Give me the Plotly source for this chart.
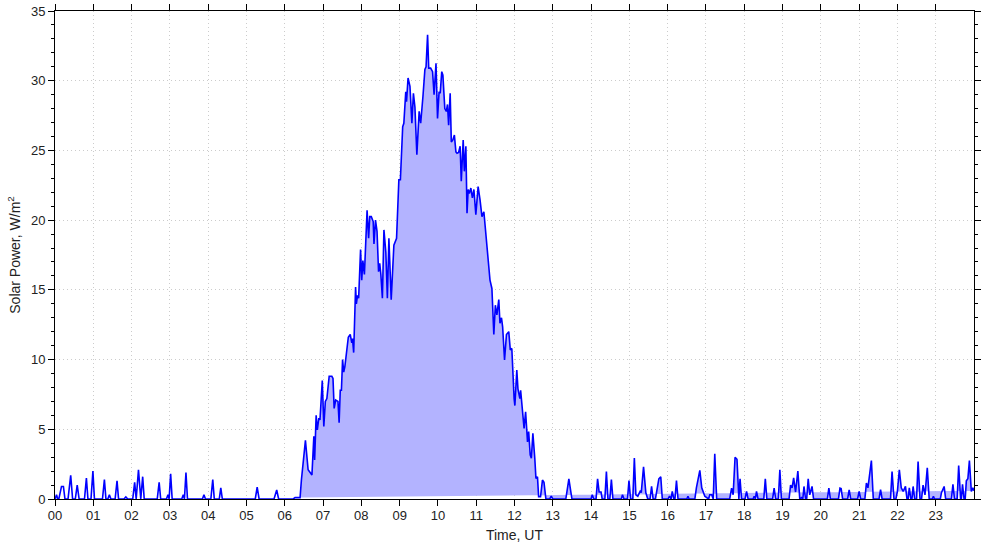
import plotly.graph_objects as go

# ---- data: time (hours UT) and solar power (W/m^2) ----
t_am = [0.00, 0.04, 0.07, 0.10, 0.17, 0.22, 0.26,
        0.34, 0.41, 0.46,
        0.53, 0.58, 0.63,
        0.77, 0.82, 0.86,
        0.94, 0.99, 1.03,
        1.24, 1.29, 1.33,
        1.38, 1.42, 1.46,
        1.57, 1.62, 1.66,
        1.80, 1.85, 1.90,
        2.03, 2.08, 2.12, 2.18, 2.24, 2.29, 2.33,
        2.67, 2.72, 2.76,
        2.91, 2.95, 2.98, 3.02, 3.06,
        3.31, 3.35, 3.38, 3.42, 3.46,
        3.85, 3.89, 3.93,
        4.07, 4.12, 4.16,
        4.29, 4.33, 4.37,
        5.23, 5.28, 5.33,
        5.72, 5.79, 5.84,
        6.22, 6.27, 6.36]
p_am = [0.0, 0.3, 0.0, 0.0, 0.9, 0.9, 0.0,
        0.0, 1.7, 0.0,
        0.0, 1.0, 0.0,
        0.0, 1.5, 0.0,
        0.0, 2.0, 0.0,
        0.0, 1.4, 0.0,
        0.0, 0.3, 0.0,
        0.0, 1.3, 0.0,
        0.0, 0.15, 0.0,
        0.0, 1.2, 0.0, 2.1, 0.0, 1.6, 0.0,
        0.0, 1.2, 0.0,
        0.0, 0.3, 0.0, 1.8, 0.0,
        0.0, 0.3, 0.0, 1.9, 0.0,
        0.0, 0.3, 0.0,
        0.0, 1.4, 0.0,
        0.0, 0.8, 0.0,
        0.0, 0.85, 0.0,
        0.0, 0.65, 0.0,
        0.0, 0.1, 0.1]

t_day = [6.40, 6.435, 6.54, 6.61, 6.67, 6.71, 6.76, 6.78, 6.82, 6.85, 6.89, 6.92,
         6.98, 7.02, 7.06, 7.10, 7.16, 7.23, 7.26, 7.29, 7.33, 7.39, 7.42, 7.45,
         7.48, 7.51, 7.54, 7.57, 7.66, 7.71, 7.75, 7.77, 7.80, 7.85, 7.87, 7.90,
         7.93, 7.98, 8.01, 8.04, 8.08, 8.15, 8.19, 8.22, 8.26, 8.31, 8.33, 8.37,
         8.41, 8.45, 8.48, 8.51, 8.55, 8.59, 8.64, 8.68, 8.72, 8.78, 8.85, 8.92,
         8.98, 9.02, 9.08, 9.11, 9.16, 9.18, 9.22, 9.27, 9.32, 9.36, 9.40, 9.45,
         9.51, 9.55, 9.61, 9.66, 9.69, 9.73, 9.76, 9.81, 9.86, 9.90, 9.95, 9.99,
         10.03, 10.06, 10.10, 10.13, 10.18, 10.22, 10.25, 10.28, 10.32, 10.35, 10.39, 10.43,
         10.47, 10.50, 10.54, 10.58, 10.61, 10.66, 10.69, 10.73, 10.76, 10.79, 10.82, 10.86,
         10.90, 10.94, 10.99, 11.05, 11.10, 11.15, 11.20, 11.27, 11.31, 11.36, 11.41, 11.46,
         11.50, 11.54, 11.59, 11.62, 11.66, 11.69, 11.74, 11.79, 11.85, 11.89, 11.93, 11.96,
         11.99, 12.01, 12.06, 12.09, 12.14, 12.16, 12.21, 12.25, 12.29, 12.34, 12.37, 12.41,
         12.44, 12.48, 12.53, 12.56, 12.60, 12.63, 12.68, 12.73, 12.77, 12.82]
p_day = [0.1, 1.36, 4.2, 2.1, 1.84, 1.72, 4.5, 2.8, 6.0, 4.95, 5.8, 5.67,
         8.5, 5.2, 7.0, 7.2, 8.8, 8.8, 8.65, 6.5, 7.1, 7.0, 5.47, 7.8,
         7.8, 10.0, 9.1, 9.5, 11.6, 11.8, 11.2, 11.5, 10.5, 15.2, 14.0, 14.6,
         14.4, 17.9, 15.7, 17.1, 16.1, 20.7, 18.7, 20.25, 20.25, 19.9, 18.3, 20.0,
         19.2, 16.3, 16.9, 16.1, 14.4, 19.3, 17.7, 14.4, 18.7, 14.3, 18.2, 18.7,
         22.9, 22.9, 26.7, 26.95, 29.2, 28.5, 30.2, 29.6, 26.95, 29.1, 28.1, 24.7,
         27.8, 26.95, 28.9, 30.8, 31.0, 33.3, 30.9, 30.9, 30.65, 29.0, 31.25, 27.3,
         29.2, 29.1, 30.65, 30.4, 28.0, 27.8, 28.3, 26.8, 29.1, 25.6, 25.75, 26.1,
         24.9, 24.8, 24.85, 25.3, 22.8, 25.75, 23.5, 25.3, 20.5, 22.2, 21.9, 22.3,
         21.6, 22.2, 20.4, 22.4, 21.45, 20.25, 20.6, 18.3, 17.3, 15.7, 15.1, 11.8,
         13.9, 13.2, 14.3, 12.6, 13.0, 12.35, 9.97, 11.8, 12.0, 10.7, 10.8, 8.66,
         7.2, 6.7, 9.25, 7.9, 7.2, 7.8, 6.26, 5.07, 6.26, 4.1, 4.83, 3.16,
         2.92, 4.71, 2.92, 1.48, 1.6, 0.16, 0.16, 1.36, 1.2, 0.0]

t_pm = [12.92, 12.96, 13.00,
        13.34, 13.42, 13.50,
        14.00, 14.03, 14.07,
        14.13, 14.17, 14.21, 14.26, 14.29,
        14.36, 14.40, 14.44,
        14.49, 14.53, 14.57,
        14.79, 14.82, 14.86,
        14.95, 14.99, 15.03,
        15.09, 15.13, 15.17, 15.22, 15.29, 15.31, 15.37, 15.43, 15.48,
        15.54, 15.58, 15.62,
        15.68, 15.72, 15.77, 15.82, 15.86,
        16.01, 16.05, 16.09, 16.12, 16.16,
        16.19, 16.23, 16.27,
        16.50, 16.53, 16.56,
        16.71, 16.75, 16.84, 16.89, 16.92, 16.97, 17.02, 17.07, 17.10, 17.15, 17.19,
        17.23, 17.28,
        17.62, 17.67, 17.71, 17.76, 17.81, 17.86, 17.89, 17.93,
        18.02, 18.06, 18.10,
        18.23, 18.26, 18.29, 18.32, 18.36,
        18.51, 18.55, 18.59,
        18.74, 18.78, 18.82,
        18.89, 18.93, 18.97,
        19.17, 19.21, 19.25, 19.29, 19.34, 19.40, 19.45, 19.50, 19.53,
        19.56, 19.60,
        19.63, 19.67, 19.71, 19.77, 19.81,
        20.17, 20.21, 20.25,
        20.46, 20.50, 20.53, 20.57,
        20.70, 20.74, 20.78,
        20.96, 21.00, 21.04,
        21.15, 21.19, 21.23, 21.32, 21.37,
        21.52, 21.56, 21.60,
        21.82, 21.86, 21.91,
        21.96, 22.00, 22.05, 22.10, 22.15, 22.21, 22.25,
        22.28, 22.31, 22.35,
        22.38, 22.41, 22.45,
        22.50, 22.54, 22.59,
        22.63, 22.67, 22.72, 22.78, 22.83,
        22.91, 22.94, 22.97,
        23.12, 23.15, 23.22, 23.26,
        23.41, 23.45, 23.49,
        23.56, 23.60, 23.65,
        23.67, 23.70, 23.74,
        23.77, 23.80, 23.84, 23.88, 23.93, 23.97, 24.00]
p_pm = [0.0, 0.2, 0.0,
        0.0, 1.45, 0.0,
        0.0, 0.3, 0.0,
        0.0, 1.45, 0.5, 0.5, 0.0,
        0.0, 1.97, 0.0,
        0.0, 1.4, 0.0,
        0.0, 0.3, 0.0,
        0.0, 1.33, 0.0,
        0.0, 2.93, 0.3, 0.2, 0.6, 0.45, 2.3, 0.45, 0.0,
        0.0, 0.9, 0.0,
        0.0, 0.78, 1.45, 1.6, 0.0,
        0.0, 0.2, 0.0, 0.55, 0.0,
        0.0, 1.33, 0.0,
        0.0, 0.2, 0.0,
        0.0, 0.8, 2.05, 0.8, 0.55, 0.2, 0.1, 0.0, 0.3, 0.3, 0.0,
        3.24, 0.0,
        0.0, 0.78, 0.3, 3.0, 2.85, 0.0, 1.45, 0.0,
        0.0, 0.55, 0.0,
        0.0, 0.2, 0.0, 0.54, 0.0,
        0.0, 1.45, 0.0,
        0.0, 0.78, 0.0,
        0.0, 2.1, 0.0,
        0.0, 1.0, 0.8, 1.52, 0.5, 2.0, 0.0, 0.1, 0.0,
        0.9, 0.0,
        0.0, 1.45, 0.3, 0.9, 0.0,
        0.0, 0.78, 0.0,
        0.0, 0.78, 0.75, 0.0,
        0.0, 0.65, 0.0,
        0.0, 0.54, 0.0,
        0.0, 1.15, 0.8, 2.76, 0.0,
        0.0, 0.67, 0.0,
        0.0, 1.97, 0.0,
        0.0, 0.55, 2.1, 0.8, 0.54, 0.9, 0.0,
        0.0, 0.8, 0.0,
        0.0, 0.9, 0.0,
        0.0, 2.69, 0.0,
        0.0, 1.0, 0.3, 2.24, 0.0,
        0.0, 0.2, 0.0,
        0.0, 0.45, 0.9, 0.0,
        0.0, 1.05, 0.0,
        0.0, 2.4, 0.0,
        0.0, 1.05, 0.0,
        0.0, 1.3, 1.45, 2.76, 0.55, 0.8, 0.6]

hour_ticks = list(range(24))
hour_labels = ["%02d" % h for h in hour_ticks]

assert len(t_am) == len(p_am)
assert len(t_day) == len(p_day)
assert len(t_pm) == len(p_pm)

t_all = t_am + t_day + t_pm
p_all = p_am + p_day + p_pm
t_fill = t_day + t_pm
p_fill = p_day + p_pm

fig = go.Figure()
fig.add_trace(go.Scatter(x=t_fill, y=p_fill, mode="lines", fill="toself",
                         fillcolor="#b3b3ff", line=dict(width=0, color="#b3b3ff"),
                         hoverinfo="skip", showlegend=False))
fig.add_trace(go.Scatter(x=t_all, y=p_all, mode="lines",
                         line=dict(color="#0000ff", width=1.6),
                         showlegend=False))

font_family = "Liberation Sans, Arial, sans-serif"
grid_color = "#cccccc"
fig.update_layout(
    width=985, height=547,
    margin=dict(l=55, r=11, t=11, b=48),
    plot_bgcolor="white", paper_bgcolor="white",
    font=dict(family=font_family, size=13, color="#222"),
    xaxis=dict(range=[0, 24], tickvals=hour_ticks, ticktext=hour_labels,
               ticks="outside", ticklen=6, tickcolor="black", ticklabelstandoff=-2,
               showline=True, linecolor="black", linewidth=1, mirror="ticks",
               showgrid=True, gridcolor=grid_color, griddash="1px,3px", gridwidth=1,
               zeroline=False, automargin=False,
               title=dict(text="Time, UT", font=dict(size=14), standoff=8)),
    yaxis=dict(range=[0, 35], dtick=5, tick0=0,
               ticks="outside", ticklen=6, tickcolor="black",
               showline=True, linecolor="black", linewidth=1, mirror="ticks",
               showgrid=True, gridcolor=grid_color, griddash="1px,3px", gridwidth=1,
               zeroline=False, automargin=False,
               minor=dict(dtick=1, ticks="outside", ticklen=3, tickcolor="black", showgrid=False),
               title=dict(text="Solar Power, W/m<sup>2</sup>", font=dict(size=14), standoff=7)),
)

fig.write_html("out.html", config={"displayModeBar": False},
               post_script="document.body.style.margin='0px';document.body.style.padding='0px';")
